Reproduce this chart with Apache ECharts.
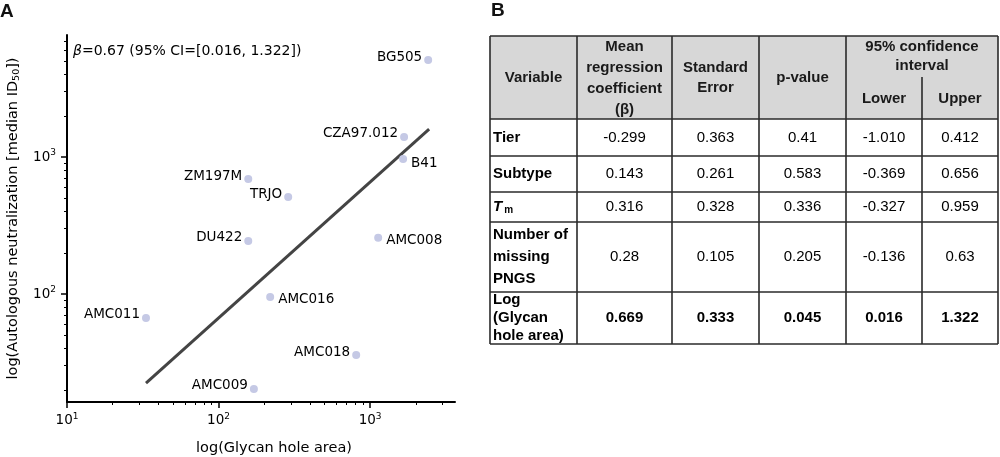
<!DOCTYPE html>
<html>
<head>
<meta charset="utf-8">
<script src="https://cdn.jsdelivr.net/npm/echarts@6/dist/echarts.min.js"></script>
<style>html,body{margin:0;padding:0;background:#fff;}#c{width:1000px;height:457px;}</style>
</head>
<body>
<div id="c"></div>
<script>
// ---------- Panel A data ----------
const strainNames = ['BG505','CZA97.012','B41','ZM197M','TRJO','DU422','AMC008','AMC016','AMC011','AMC018','AMC009'];
const glycanHoleArea = [2415, 1675, 1650, 157, 288, 157, 1130, 219, 33.2, 809, 171];
const autologousID50 = [5100, 1400, 967, 690, 510, 244, 257, 95, 66.9, 35.9, 20.3];
const fitLineX = [33.2, 2450];
const fitLineY = [22.4, 1600];
const majorTicksX = [10, 100, 1000];
const majorTicksY = [100, 1000];
const annotationText = '=0.67 (95% CI=[0.016, 1.322])';

// ---------- Panel B data ----------
const tableVariables = ['Tier', 'Subtype', 'Tm', 'Number of\nmissing\nPNGS', 'Log\n(Glycan\nhole area)'];
const coefficient = ['-0.299', '0.143', '0.316', '0.28', '0.669'];
const stdError = ['0.363', '0.261', '0.328', '0.105', '0.333'];
const pValue = ['0.41', '0.583', '0.336', '0.205', '0.045'];
const ciLower = ['-1.010', '-0.369', '-0.327', '-0.136', '0.016'];
const ciUpper = ['0.412', '0.656', '0.959', '0.63', '1.322'];
const headerTexts = ['Variable', 'Mean\nregression\ncoefficient\n(\u03b2)', 'Standard\nError', 'p-value'];
const ciHeader = '95% confidence\ninterval';
const ciSubHeaders = ['Lower', 'Upper'];

// ---------- helpers ----------
function minorTicks(lo, hi) {
  const out = [];
  for (let e = 0; e < 5; e++) {
    for (let m = 2; m <= 9; m++) {
      const v = m * Math.pow(10, e);
      if (v > lo && v < hi) out.push(v);
    }
  }
  return out;
}
const X_MIN = 10, X_MAX = 3630, Y_MIN = 16.3, Y_MAX = 7770;
const rightLabelled = { 'B41': [0, 4], 'AMC008': [0, 3], 'AMC016': [0, 2] };
const FONT_A = '"DejaVu Sans", sans-serif';
const FONT_B = '"Liberation Sans", Arial, sans-serif';

const supFormatter = v => '10{sup|' + Math.round(Math.log10(v)) + '}';
const supRich = { sup: { fontSize: 9, padding: [0, 0, 8, 0], color: '#000', fontFamily: FONT_A } };

function majorAxis(extra) {
  return Object.assign({
    type: 'log', logBase: 10, gridIndex: 0, offset: 0,
    axisLine: { show: true, lineStyle: { color: '#000', width: 2 } },
    splitLine: { show: false },
    minorTick: { show: false },
  }, extra);
}

const scatterData = strainNames.map((n, i) => {
  const r = rightLabelled[n];
  return {
    name: n,
    value: [glycanHoleArea[i], autologousID50[i]],
    label: r ? { position: 'right', offset: r, distance: 4 } : { position: 'left', offset: [0, -3], distance: 2 }
  };
});

// ---------- table graphics ----------
const colEdges = [490, 577, 672, 759, 846, 922, 998];
const rowEdges = [36, 119, 156, 192, 222, 292, 344];
const ciSplitTop = 77;
const lineColor = '#2a2a2a';
const g = [];
g.push({ type: 'rect', shape: { x: colEdges[0], y: rowEdges[0], width: colEdges[6] - colEdges[0], height: rowEdges[1] - rowEdges[0] }, style: { fill: '#d7d7d7' }, z: 1 });
g.push({ type: 'rect', shape: { x: colEdges[0], y: rowEdges[1], width: colEdges[6] - colEdges[0], height: rowEdges[6] - rowEdges[1] }, style: { fill: '#fff' }, z: 1 });
rowEdges.forEach(y => g.push({ type: 'line', shape: { x1: colEdges[0], y1: y, x2: colEdges[6], y2: y }, style: { stroke: lineColor, lineWidth: 1.6 }, z: 3 }));
colEdges.forEach((x, i) => g.push({ type: 'line', shape: { x1: x, y1: i === 5 ? ciSplitTop : rowEdges[0], x2: x, y2: rowEdges[6] }, style: { stroke: lineColor, lineWidth: 1.6 }, z: 3 }));

const headLH = [21, 21, 20, 21];
headerTexts.forEach((t, i) => {
  g.push({ type: 'text', z: 4, style: { text: t, x: (colEdges[i] + colEdges[i + 1]) / 2, y: (rowEdges[0] + rowEdges[1]) / 2 + 0.5, align: 'center', verticalAlign: 'middle', lineHeight: headLH[i], font: 'bold 15px ' + FONT_B, fill: '#1a1a1a' } });
});
g.push({ type: 'text', z: 4, style: { text: ciHeader, x: (colEdges[4] + colEdges[6]) / 2, y: 56.5, align: 'center', verticalAlign: 'middle', lineHeight: 19, font: 'bold 15px ' + FONT_B, fill: '#1a1a1a' } });
ciSubHeaders.forEach((t, i) => {
  g.push({ type: 'text', z: 4, style: { text: t, x: (colEdges[4 + i] + colEdges[5 + i]) / 2, y: 99, align: 'center', verticalAlign: 'middle', font: 'bold 15px ' + FONT_B, fill: '#1a1a1a' } });
});
const bodyLH = [18, 18, 18, 22, 18];
const valueCols = [coefficient, stdError, pValue, ciLower, ciUpper];
tableVariables.forEach((v, r) => {
  const cy = (rowEdges[r + 1] + rowEdges[r + 2]) / 2;
  if (v === 'Tm') {
    g.push({ type: 'text', z: 4, style: { text: '{t|T}{m|m}', x: colEdges[0] + 3, y: cy, align: 'left', verticalAlign: 'middle',
      rich: { t: { fontSize: 15, fontWeight: 'bold', fontStyle: 'italic', fontFamily: FONT_B, fill: '#000' },
              m: { fontSize: 10, fontWeight: 'bold', fontFamily: FONT_B, fill: '#000', padding: [7, 0, 0, 2] } } } });
  } else {
    g.push({ type: 'text', z: 4, style: { text: v, x: colEdges[0] + 3, y: cy, align: 'left', verticalAlign: 'middle', lineHeight: bodyLH[r], font: 'bold 15px ' + FONT_B, fill: '#000' } });
  }
  const bold = parseFloat(pValue[r]) < 0.05;
  valueCols.forEach((col, c) => {
    g.push({ type: 'text', z: 4, style: { text: col[r], x: (colEdges[c + 1] + colEdges[c + 2]) / 2, y: cy, align: 'center', verticalAlign: 'middle', font: (bold ? 'bold ' : '') + '15px ' + FONT_B, fill: '#000' } });
  });
});
// panel letters + annotation
g.push({ type: 'text', z: 4, style: { text: 'A', x: 0, y: 12, align: 'left', verticalAlign: 'middle', font: 'bold 19px ' + FONT_B, fill: '#111' } });
g.push({ type: 'text', z: 4, style: { text: 'B', x: 491, y: 11, align: 'left', verticalAlign: 'middle', font: 'bold 19px ' + FONT_B, fill: '#111' } });
g.push({ type: 'text', z: 4, style: { text: '{i|\u03b2}' + annotationText, x: 73, y: 51, align: 'left', verticalAlign: 'middle', fontSize: 14, fontFamily: FONT_A, fill: '#000',
  rich: { i: { fontStyle: 'italic', fontSize: 14, fontFamily: FONT_A, fill: '#000' } } } });

const chart = echarts.init(document.getElementById('c'));
chart.setOption({
  animation: false,
  backgroundColor: '#fff',
  textStyle: { fontFamily: FONT_A },
  grid: { left: 67, right: 545, top: 35, bottom: 55, containLabel: false, outerBoundsMode: 'none' },
  xAxis: [
    majorAxis({
      position: 'bottom',
      min: X_MIN, max: X_MAX,
      axisTick: { show: true, length: 6, customValues: majorTicksX, lineStyle: { color: '#000', width: 1.5 } },
      axisLabel: { customValues: majorTicksX, formatter: supFormatter, rich: supRich, fontSize: 13.5, color: '#000', margin: 10, fontFamily: FONT_A },
      name: 'log(Glycan hole area)', nameLocation: 'middle', nameGap: 39,
      nameTextStyle: { fontSize: 14.5, color: '#000', fontFamily: FONT_A, padding: [0, 0, 0, 26] }
    }),
    majorAxis({
      position: 'bottom',
      min: X_MIN, max: X_MAX, axisLine: { show: false, onZero: false },
      axisTick: { show: true, length: 3, customValues: minorTicks(X_MIN, X_MAX), lineStyle: { color: '#000', width: 1 } },
      axisLabel: { show: false }
    })
  ],
  yAxis: [
    majorAxis({
      position: 'left',
      min: Y_MIN, max: Y_MAX,
      axisTick: { show: true, length: 6, customValues: majorTicksY, lineStyle: { color: '#000', width: 1.5 } },
      axisLabel: { customValues: majorTicksY, formatter: supFormatter, rich: supRich, fontSize: 13.5, color: '#000', margin: 11, fontFamily: FONT_A },
      name: 'log(Autologous neutralization [median ID{sub|50}])', nameLocation: 'middle', nameGap: 45,
      nameTextStyle: { fontSize: 14.5, color: '#000', fontFamily: FONT_A,
        rich: { sub: { fontSize: 9.5, padding: [8, 0, 0, 0], color: '#000', fontFamily: FONT_A } } }
    }),
    majorAxis({
      position: 'left',
      min: Y_MIN, max: Y_MAX, axisLine: { show: false, onZero: false },
      axisTick: { show: true, length: 3, customValues: minorTicks(Y_MIN, Y_MAX), lineStyle: { color: '#000', width: 1 } },
      axisLabel: { show: false }
    })
  ],
  series: [
    {
      type: 'line', xAxisIndex: 0, yAxisIndex: 0,
      data: fitLineX.map((x, i) => [x, fitLineY[i]]),
      symbol: 'none', lineStyle: { color: '#444', width: 3 }, z: 2, silent: true
    },
    {
      type: 'scatter', xAxisIndex: 0, yAxisIndex: 0,
      data: scatterData, symbolSize: 8,
      itemStyle: { color: '#c5c9e5', opacity: 1 },
      label: { show: true, formatter: '{b}', fontSize: 13.5, color: '#000', fontFamily: FONT_A },
      z: 3
    }
  ],
  graphic: g
});
</script>
</body>
</html>
